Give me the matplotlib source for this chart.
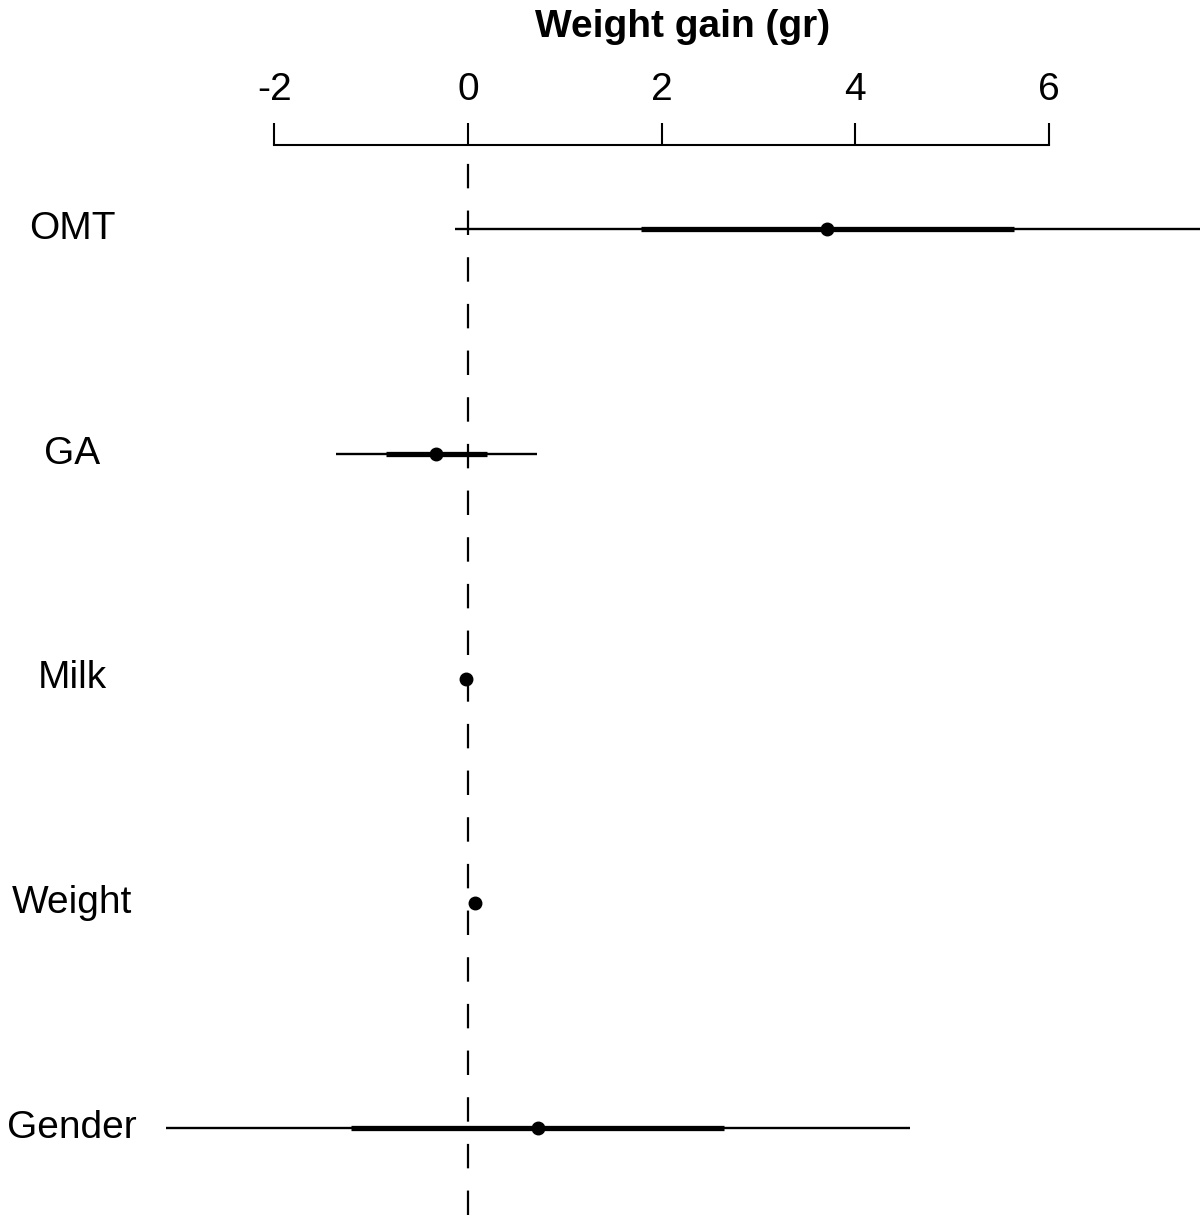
import matplotlib.pyplot as plt
from matplotlib.transforms import blended_transform_factory

plt.rcParams['font.family'] = ['Liberation Sans', 'DejaVu Sans']

# coefficient estimates with +-1 SE (thick) and +-2 SE (thin) ranges
labels = ["OMT", "GA", "Milk", "Weight", "Gender"]
est = [3.71, -0.33, -0.02, 0.07, 0.72]
lo1 = [1.79, -0.85, -0.03, 0.06, -1.21]
hi1 = [5.64, 0.20, -0.01, 0.08, 2.64]
lo2 = [-0.13, -1.36, -0.04, 0.05, -3.12]
hi2 = [7.58, 0.71, 0.00, 0.09, 4.57]
xticks = [-2, 0, 2, 4, 6]

fig = plt.figure(figsize=(12, 12.15), dpi=100)
ax = fig.add_axes([0, 0, 1, 1 - 145 / 1215])

pos = list(range(len(labels)))
ax.hlines(pos, lo2, hi2, color="black", lw=1.7)
ax.hlines(pos, lo1, hi1, color="black", lw=3.8)
ax.plot(est, pos, "o", color="black", ms=9)

ax.axvline(0, color="black", lw=1.6, dashes=(11, 10))

ax.set_xlim(-468 / 96.8, (1200 - 468) / 96.8)
ax.set_ylim((1215 - 229) / 224.75, -84 / 224.75)

for s in ["left", "right", "bottom"]:
    ax.spines[s].set_visible(False)
ax.spines["top"].set_bounds(-2, 6)
ax.spines["top"].set_linewidth(1.5)
ax.set_yticks([])
ax.xaxis.tick_top()
ax.set_xticks(xticks)
ax.set_xticklabels([str(t) for t in xticks])
ax.tick_params(axis="x", direction="out", length=16, width=1.5, pad=11, labelsize=28)

tr = blended_transform_factory(fig.transFigure, ax.transData)
for p, lab in zip(pos, labels):
    ax.text(0.06, p, lab, transform=tr, ha="center", va="center", fontsize=28)

fig.text(683 / 1200, 1 - 27 / 1215, "Weight gain (gr)", ha="center", va="center",
         fontsize=28, fontweight="bold")

fig.savefig("out.png", dpi=100)
